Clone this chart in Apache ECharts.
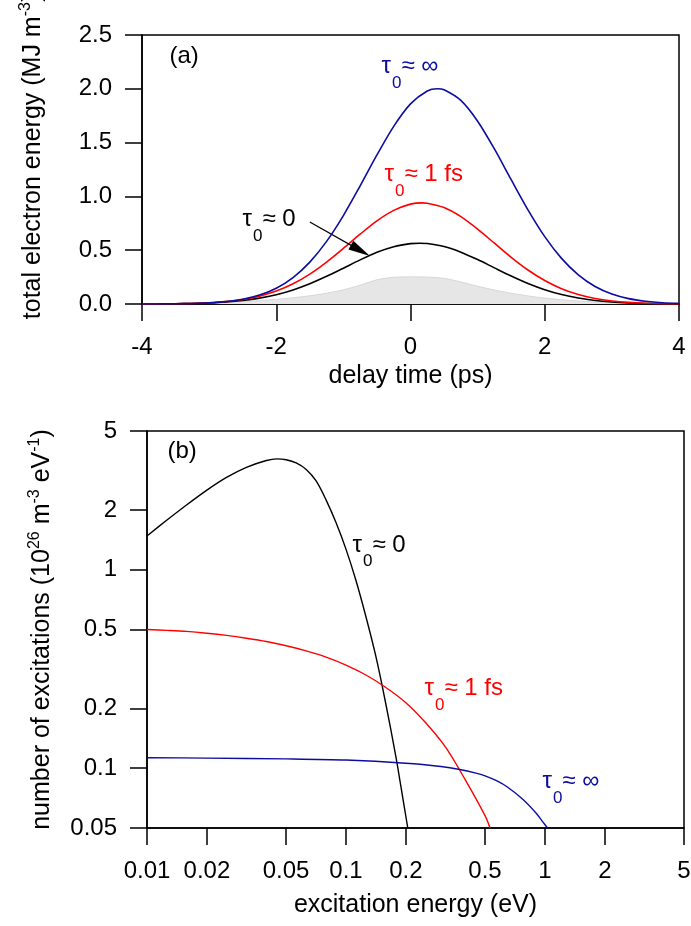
<!DOCTYPE html>
<html><head><meta charset="utf-8">
<script src="https://cdn.jsdelivr.net/npm/echarts@6/dist/echarts.min.js"></script>
<style>html,body{margin:0;padding:0;background:#fff}#c{width:691px;height:926px}</style>
</head><body><div id="c"></div>
<script>
// ---------- panel (a) data ----------
const delayTime = [-4,-3.75,-3.5,-3.25,-3,-2.75,-2.5,-2.25,-2,-1.75,-1.5,-1.25,-1,-0.75,-0.5,-0.25,0,0.25,0.5,0.75,1,1.25,1.5,1.75,2,2.25,2.5,2.75,3,3.25,3.5,3.75,4];
const timeInf = [-4,-3.75,-3.5,-3.25,-3,-2.75,-2.5,-2.25,-2,-1.75,-1.5,-1.25,-1,-0.75,-0.5,-0.25,0,0.25,0.4,0.5,0.75,1,1.25,1.5,1.75,2,2.25,2.5,2.75,3,3.25,3.5,3.75,4];
const energyInf = [0.0003,0.0008,0.002,0.0048,0.0106,0.022,0.044,0.083,0.147,0.246,0.389,0.582,0.822,1.098,1.385,1.651,1.860,1.980,2.000,1.991,1.892,1.699,1.441,1.155,0.875,0.626,0.424,0.271,0.163,0.093,0.050,0.026,0.012,0.0056];
const time1fs = [-4,-3.75,-3.5,-3.25,-3,-2.75,-2.5,-2.25,-2,-1.75,-1.5,-1.25,-1,-0.75,-0.5,-0.25,0,0.17,0.25,0.5,0.75,1,1.25,1.5,1.75,2,2.25,2.5,2.75,3,3.25,3.5,3.75,4];
const energy1fs = [0.0005,0.0011,0.0026,0.0057,0.0117,0.0227,0.0418,0.0729,0.120,0.188,0.278,0.390,0.517,0.649,0.773,0.870,0.928,0.940,0.937,0.896,0.812,0.696,0.565,0.434,0.316,0.218,0.142,0.088,0.051,0.028,0.015,0.0074,0.0035,0.0016];
const timeZero = [-4,-3.75,-3.5,-3.25,-3,-2.75,-2.5,-2.25,-2,-1.75,-1.5,-1.25,-1,-0.75,-0.5,-0.25,0,0.13,0.25,0.5,0.75,1,1.25,1.5,1.75,2,2.25,2.5,2.75,3,3.25,3.5,3.75,4];
const energyZero = [0.0005,0.0011,0.0024,0.0050,0.0099,0.0184,0.0324,0.0544,0.0867,0.131,0.188,0.257,0.333,0.410,0.480,0.532,0.561,0.565,0.562,0.534,0.482,0.413,0.336,0.260,0.191,0.133,0.088,0.0555,0.0331,0.0188,0.0101,0.0052,0.0025,0.0012];
const energyPulse = [0.000,0.002,0.004,0.007,0.011,0.016,0.023,0.032,0.043,0.058,0.076,0.100,0.132,0.175,0.225,0.248,0.252,0.250,0.238,0.205,0.165,0.130,0.100,0.075,0.055,0.040,0.028,0.019,0.012,0.008,0.005,0.003,0.001];
const yTicksA = [0, 0.5, 1.0, 1.5, 2.0, 2.5];

// ---------- panel (b) data ----------
const excEnergyZero = [0.01,0.0126,0.0158,0.02,0.0251,0.0316,0.0398,0.045,0.0501,0.0562,0.0631,0.0708,0.0794,0.0891,0.1,0.112,0.126,0.141,0.158,0.178,0.19,0.2045];
const excCountZero  = [1.48,1.78,2.12,2.52,2.92,3.28,3.55,3.62,3.58,3.45,3.2,2.8,2.25,1.73,1.27,0.89,0.58,0.37,0.215,0.115,0.078,0.05];
const excEnergy1fs = [0.01,0.0126,0.0158,0.02,0.0251,0.0316,0.0398,0.0501,0.0631,0.0794,0.1,0.126,0.158,0.2,0.251,0.316,0.398,0.5,0.53];
const excCount1fs  = [0.5,0.495,0.489,0.479,0.467,0.452,0.435,0.414,0.39,0.363,0.331,0.295,0.256,0.214,0.17,0.128,0.0874,0.0577,0.05];
const excEnergyInf = [0.01,0.02,0.05,0.1,0.2,0.3,0.373,0.45,0.5,0.571,0.65,0.776,0.906,0.98,1.03];
const excCountInf  = [0.113,0.1125,0.1115,0.110,0.106,0.102,0.0986,0.0945,0.0915,0.0865,0.0802,0.0696,0.0592,0.0534,0.05];
const xTicksB = [0.01,0.02,0.05,0.1,0.2,0.5,1,2,5];
const yTicksB = [0.05,0.1,0.2,0.5,1,2,5];

// ---------- annotations (data coordinates) ----------
const annotAX = [-3.583, -0.425, -0.38, -2.495];
const annotAY = [2.407, 2.314, 1.31, 0.892];
const annotAText = ['{mk|(a)}', '{mb|τ}{sb|0}{mb|≈ ∞}', '{mr|τ}{sr|0}{mr|≈ 1 fs}', '{mk|τ}{sk|0}{mk|≈ 0}'];
const arrowFrom = [-1.5, 0.762];
const arrowTo = [-0.746, 0.496];
const annotBX = [0.01275, 0.1085, 0.2495, 0.977];
const annotBY = [4.50, 1.52, 0.287, 0.0978];
const annotBText = ['{mk|(b)}', '{mk|τ}{sk|0}{mk|≈ 0}', '{mr|τ}{sr|0}{mr|≈ 1 fs}', '{mb|τ}{sb|0}{mb|≈ ∞}'];

const FONT = '"Liberation Sans", Arial, Helvetica, sans-serif';
const BLUE = '#0c0ca0', RED = '#ff0000', BLACK = '#000000';
const pair = (xs, ys) => xs.map((x, i) => [x, ys[i]]);
const fmtLog = v => String(parseFloat(Number(v).toPrecision(4)));

const annotRich = {};
[['b', BLUE], ['r', RED], ['k', BLACK]].forEach(([k, c]) => {
  annotRich['m' + k] = {fontSize: 24, fontFamily: FONT, color: c, lineHeight: 24, verticalAlign: 'top'};
  annotRich['s' + k] = {fontSize: 17, fontFamily: FONT, color: c, lineHeight: 17, verticalAlign: 'top', padding: [20, 0, 0, 1]};
});
const annotSeries = (xi, xs, ys, texts) => ({
  type: 'scatter', xAxisIndex: xi, yAxisIndex: xi, symbol: 'circle', symbolSize: 1,
  itemStyle: {color: 'rgba(0,0,0,0)', opacity: 1}, silent: true, z: 20,
  data: xs.map((x, i) => ({value: [x, ys[i]], name: texts[i]})),
  label: {show: true, position: [0, 0], align: 'left', verticalAlign: 'top', opacity: 1,
    formatter: p => p.name, rich: annotRich}
});

const axisLineStyle = {color: '#000', width: 1.5};
const tickLabel = {fontSize: 24, color: '#000', fontFamily: FONT};
const nameStyle = {fontSize: 25, color: '#000', fontFamily: FONT};
const supRich = {
  n: {fontSize: 25, fontFamily: FONT, color: '#000', lineHeight: 30, verticalAlign: 'middle'},
  sup: {fontSize: 16, fontFamily: FONT, color: '#000', lineHeight: 16, verticalAlign: 'top'}
};

const chart = echarts.init(document.getElementById('c'), null, {renderer: 'canvas'});
const option = {
  animation: false,
  backgroundColor: '#ffffff',
  textStyle: {fontFamily: FONT},
  grid: [
    {left: 142, top: 35, width: 537, height: 269, show: true, borderColor: '#000', borderWidth: 1.5, containLabel: false, outerBoundsMode: 'none'},
    {left: 147, top: 431, width: 537, height: 397, show: true, borderColor: '#000', borderWidth: 1.5, containLabel: false, outerBoundsMode: 'none'}
  ],
  xAxis: [
    {gridIndex: 0, type: 'value', min: -4, max: 4, interval: 2,
      axisLine: {show: true, onZero: false, lineStyle: axisLineStyle},
      axisTick: {show: true, inside: false, length: 17, lineStyle: axisLineStyle},
      axisLabel: Object.assign({margin: 31, showMinLabel: true, showMaxLabel: true}, tickLabel),
      splitLine: {show: false},
      name: 'delay time (ps)', nameLocation: 'middle', nameGap: 60, nameTextStyle: nameStyle},
    {gridIndex: 1, type: 'log', logBase: 10, min: 0.01, max: 5,
      axisLine: {show: true, onZero: false, lineStyle: axisLineStyle},
      axisTick: {show: true, inside: false, length: 17, lineStyle: axisLineStyle, customValues: xTicksB},
      minorTick: {show: false},
      axisLabel: Object.assign({margin: 31, customValues: xTicksB, formatter: fmtLog, showMinLabel: true, showMaxLabel: true}, tickLabel),
      splitLine: {show: false}, minorSplitLine: {show: false},
      name: 'excitation energy (eV)', nameLocation: 'middle', nameGap: 65, nameTextStyle: nameStyle}
  ],
  yAxis: [
    {gridIndex: 0, type: 'value', min: yTicksA[0], max: yTicksA[yTicksA.length - 1], interval: 0.5,
      axisLine: {show: true, onZero: false, lineStyle: axisLineStyle},
      axisTick: {show: true, inside: false, length: 17, lineStyle: axisLineStyle},
      axisLabel: Object.assign({margin: 30, formatter: v => v.toFixed(1), showMinLabel: true, showMaxLabel: true}, tickLabel),
      splitLine: {show: false},
      name: '{n|total electron energy (MJ m}{sup|-3}{n|)}', nameLocation: 'middle', nameRotate: 90, nameGap: 94,
      nameTextStyle: Object.assign({rich: supRich, lineHeight: 30, padding: [0, 0, 0, 26]}, nameStyle)},
    {gridIndex: 1, type: 'log', logBase: 10, min: 0.05, max: 5,
      axisLine: {show: true, onZero: false, lineStyle: axisLineStyle},
      axisTick: {show: true, inside: false, length: 17, lineStyle: axisLineStyle, customValues: yTicksB},
      minorTick: {show: false},
      axisLabel: Object.assign({margin: 30, customValues: yTicksB, formatter: fmtLog, showMinLabel: true, showMaxLabel: true}, tickLabel),
      splitLine: {show: false}, minorSplitLine: {show: false},
      name: '{n|number of excitations (10}{sup|26}{n| m}{sup|-3}{n| eV}{sup|-1}{n|)}', nameLocation: 'middle', nameRotate: 90, nameGap: 90,
      nameTextStyle: Object.assign({rich: supRich, lineHeight: 30}, nameStyle)}
  ],
  series: [
    {type: 'line', xAxisIndex: 0, yAxisIndex: 0, data: pair(delayTime, energyPulse), smooth: 0.3, showSymbol: false, silent: true,
      lineStyle: {color: '#d6d6d6', width: 1}, areaStyle: {color: '#e6e6e6', opacity: 1}, z: 1},
    {type: 'line', xAxisIndex: 0, yAxisIndex: 0, data: pair(timeZero, energyZero), smooth: 0.3, showSymbol: false, silent: true,
      lineStyle: {color: BLACK, width: 1.6}, z: 3,
      markLine: {silent: true, animation: false, symbol: ['none', 'triangle'], symbolSize: [0, [10, 22]],
        lineStyle: {color: '#000', width: 1.2, type: 'solid'}, itemStyle: {color: '#000'}, label: {show: false},
        data: [[{coord: arrowFrom}, {coord: arrowTo, symbolSize: [10, 22]}]]}},
    {type: 'line', xAxisIndex: 0, yAxisIndex: 0, data: pair(time1fs, energy1fs), smooth: 0.3, showSymbol: false, silent: true,
      lineStyle: {color: RED, width: 1.6}, z: 4},
    {type: 'line', xAxisIndex: 0, yAxisIndex: 0, data: pair(timeInf, energyInf), smooth: 0.3, showSymbol: false, silent: true,
      lineStyle: {color: BLUE, width: 1.6}, z: 5},
    annotSeries(0, annotAX, annotAY, annotAText),

    {type: 'line', xAxisIndex: 1, yAxisIndex: 1, data: pair(excEnergyZero, excCountZero), smooth: 0.3, showSymbol: false, silent: true,
      lineStyle: {color: BLACK, width: 1.4}, z: 3},
    {type: 'line', xAxisIndex: 1, yAxisIndex: 1, data: pair(excEnergy1fs, excCount1fs), smooth: 0.3, showSymbol: false, silent: true,
      lineStyle: {color: RED, width: 1.4}, z: 4},
    {type: 'line', xAxisIndex: 1, yAxisIndex: 1, data: pair(excEnergyInf, excCountInf), smooth: 0.3, showSymbol: false, silent: true,
      lineStyle: {color: BLUE, width: 1.4}, z: 5},
    annotSeries(1, annotBX, annotBY, annotBText)
  ]
};
chart.setOption(option);
</script>
</body></html>
